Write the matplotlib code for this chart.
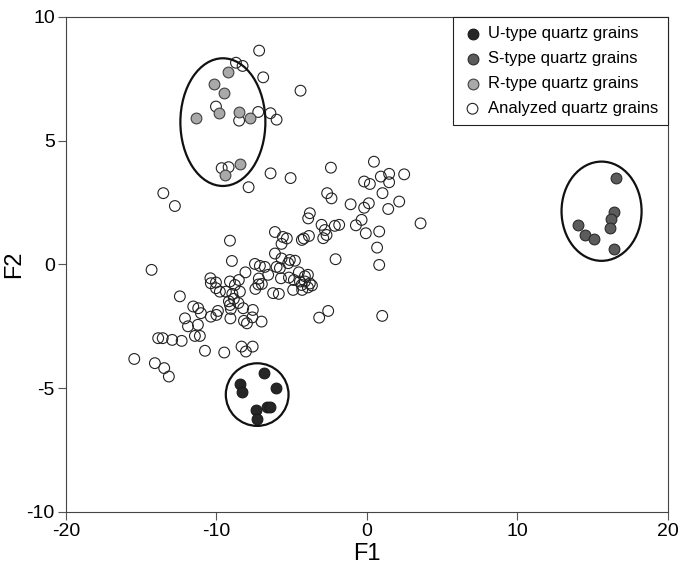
import matplotlib
matplotlib.use("Agg")
import matplotlib.pyplot as plt
from matplotlib.patches import Ellipse

plt.rcParams['font.family'] = ['Liberation Sans', 'DejaVu Sans']
plt.rcParams['axes.unicode_minus'] = False

# grain groups (F1, F2 discriminant scores)
u_f1 = [-6.84, -8.44, -8.33, -6.05, -6.62, -6.45, -7.40, -7.29]
u_f2 = [-4.37, -4.83, -5.14, -5.00, -5.75, -5.76, -5.90, -6.25]

s_f1 = [16.59, 16.43, 16.26, 16.19, 14.04, 14.49, 15.10, 16.43]
s_f2 = [3.48, 2.13, 1.83, 1.49, 1.60, 1.19, 1.02, 0.61]

r_f1 = [-9.25, -10.15, -9.50, -11.38, -9.81, -8.49, -7.77, -8.43, -9.44]
r_f2 = [7.77, 7.28, 6.94, 5.93, 6.11, 6.15, 5.93, 4.04, 3.62]

a_f1 = [-7.16, -8.70, -8.26, -6.89, -4.41, -10.03, -7.22, -6.41, -6.00, -8.49,
        -9.65, -9.19, -6.40, -5.07, -7.86, -13.53, -12.76, -2.39, -2.64, -2.35,
        0.47, -0.18, 0.20, 0.93, 1.48, 1.48, 2.48, 1.04, 2.15, 1.42,
        -1.08, -0.18, 0.13, -0.35, -0.73, -0.07, 0.82, 0.68, 0.82, 3.57,
        -2.57, -3.17, 1.02,
        -6.11, -5.58, -5.32, -5.67, -6.11, -5.67, -5.12, -4.78, -5.23, -4.32,
        -4.19, -3.85, -3.79, -3.90, -3.01, -2.79, -2.68, -2.90, -2.13, -1.84,
        -2.08, -7.44, -7.11, -6.78, -8.07, -6.00, -5.78, -6.56, -7.18, -7.21,
        -6.98, -7.41, -5.71, -5.18, -4.85, -4.52, -4.12, -3.92, -4.45, -4.12,
        -4.34, -3.79, -3.65, -3.92, -4.90, -4.30, -6.23, -5.85, -8.97, -9.10,
        -10.40, -10.37, -10.03, -10.03, -9.77, -9.37, -9.10, -8.77, -8.51, -8.94,
        -8.44, -9.17, -8.84, -8.54, -9.10, -9.04, -8.22, -7.58, -7.61, -11.54,
        -11.21, -11.03, -12.09, -11.89, -11.23, -9.90, -10.00, -10.37, -9.07, -8.17,
        -7.97, -7.00, -11.43, -11.10, -13.87, -13.57, -12.94, -12.31, -10.76, -9.48,
        -8.33, -8.04, -7.59, -15.46, -14.09, -13.47, -13.16, -14.31, -12.43]
a_f2 = [8.64, 8.15, 8.02, 7.56, 7.02, 6.38, 6.16, 6.11, 5.85, 5.81,
        3.89, 3.93, 3.68, 3.49, 3.12, 2.88, 2.36, 3.91, 2.88, 2.67,
        4.15, 3.35, 3.25, 3.55, 3.66, 3.32, 3.64, 2.88, 2.54, 2.24,
        2.43, 2.29, 2.47, 1.80, 1.58, 1.26, 1.33, 0.68, -0.02, 1.66,
        -1.88, -2.15, -2.08,
        1.31, 1.11, 1.05, 0.83, 0.44, 0.24, 0.18, 0.15, 0.05, 0.99,
        1.05, 1.15, 2.07, 1.86, 1.60, 1.39, 1.19, 1.06, 1.56, 1.60,
        0.21, 0.02, -0.06, -0.10, -0.32, -0.10, -0.15, -0.42, -0.57, -0.81,
        -0.79, -0.99, -0.56, -0.53, -0.63, -0.32, -0.48, -0.42, -0.69, -0.69,
        -0.83, -0.77, -0.85, -0.93, -1.03, -1.03, -1.16, -1.19, 0.14, 0.96,
        -0.56, -0.76, -0.73, -0.96, -1.10, -1.10, -0.69, -0.83, -0.63, -1.19,
        -1.10, -1.49, -1.39, -1.56, -1.64, -1.80, -1.77, -1.84, -2.14, -1.70,
        -1.77, -1.97, -2.18, -2.50, -2.44, -1.88, -2.04, -2.11, -2.18, -2.28,
        -2.38, -2.31, -2.89, -2.89, -2.98, -2.98, -3.05, -3.09, -3.49, -3.56,
        -3.32, -3.52, -3.32, -3.82, -3.99, -4.19, -4.53, -0.22, -1.29]

# group outlines: centre F1, centre F2, width, height
groups = {'U': (-7.29, -5.26, 4.17, 2.53),
          'S': (15.6, 2.15, 5.32, 4.01),
          'R': (-9.57, 5.75, 5.65, 5.16)}

fig = plt.figure(figsize=(6.8, 5.65), dpi=100)
ax = fig.add_axes([0.097, 0.094, 0.885, 0.876])

ms = 60
ax.scatter(u_f1, u_f2, s=ms, c='#262626', edgecolors='#1a1a1a', linewidths=0.8,
           label='U-type quartz grains', zorder=3)
ax.scatter(s_f1, s_f2, s=ms, c='#5c5c5c', edgecolors='#2a2a2a', linewidths=0.8,
           label='S-type quartz grains', zorder=3)
ax.scatter(r_f1, r_f2, s=ms, c='#a9a9a9', edgecolors='#404040', linewidths=0.8,
           label='R-type quartz grains', zorder=3)
ax.scatter(a_f1, a_f2, s=ms, facecolors='none', edgecolors='#222222', linewidths=0.8,
           label='Analyzed quartz grains', zorder=2)

for cx, cy, w, h in groups.values():
    ax.add_patch(Ellipse((cx, cy), w, h, fill=False, edgecolor='#111111',
                         linewidth=1.6, zorder=4))

ax.set_xlim(-20, 20)
ax.set_ylim(-10, 10)
ax.set_xticks([-20, -10, 0, 10, 20])
ax.set_yticks([-10, -5, 0, 5, 10])
ax.tick_params(direction='out', length=6, width=0.8, color='#555555',
               labelsize=14, pad=2)
for sp in ax.spines.values():
    sp.set_linewidth(0.8)
    sp.set_color('#444444')

ax.set_xlabel('F1', fontsize=17, labelpad=2)
ax.set_ylabel('F2', fontsize=17, labelpad=1)

leg = ax.legend(loc='upper right', borderaxespad=0, fontsize=12, fancybox=False,
                framealpha=1, edgecolor='#222222', handletextpad=0.3,
                borderpad=0.55, labelspacing=0.6, handlelength=1.3, markerscale=1.0)
leg.get_frame().set_linewidth(0.8)

fig.savefig('out.png', dpi=100)
